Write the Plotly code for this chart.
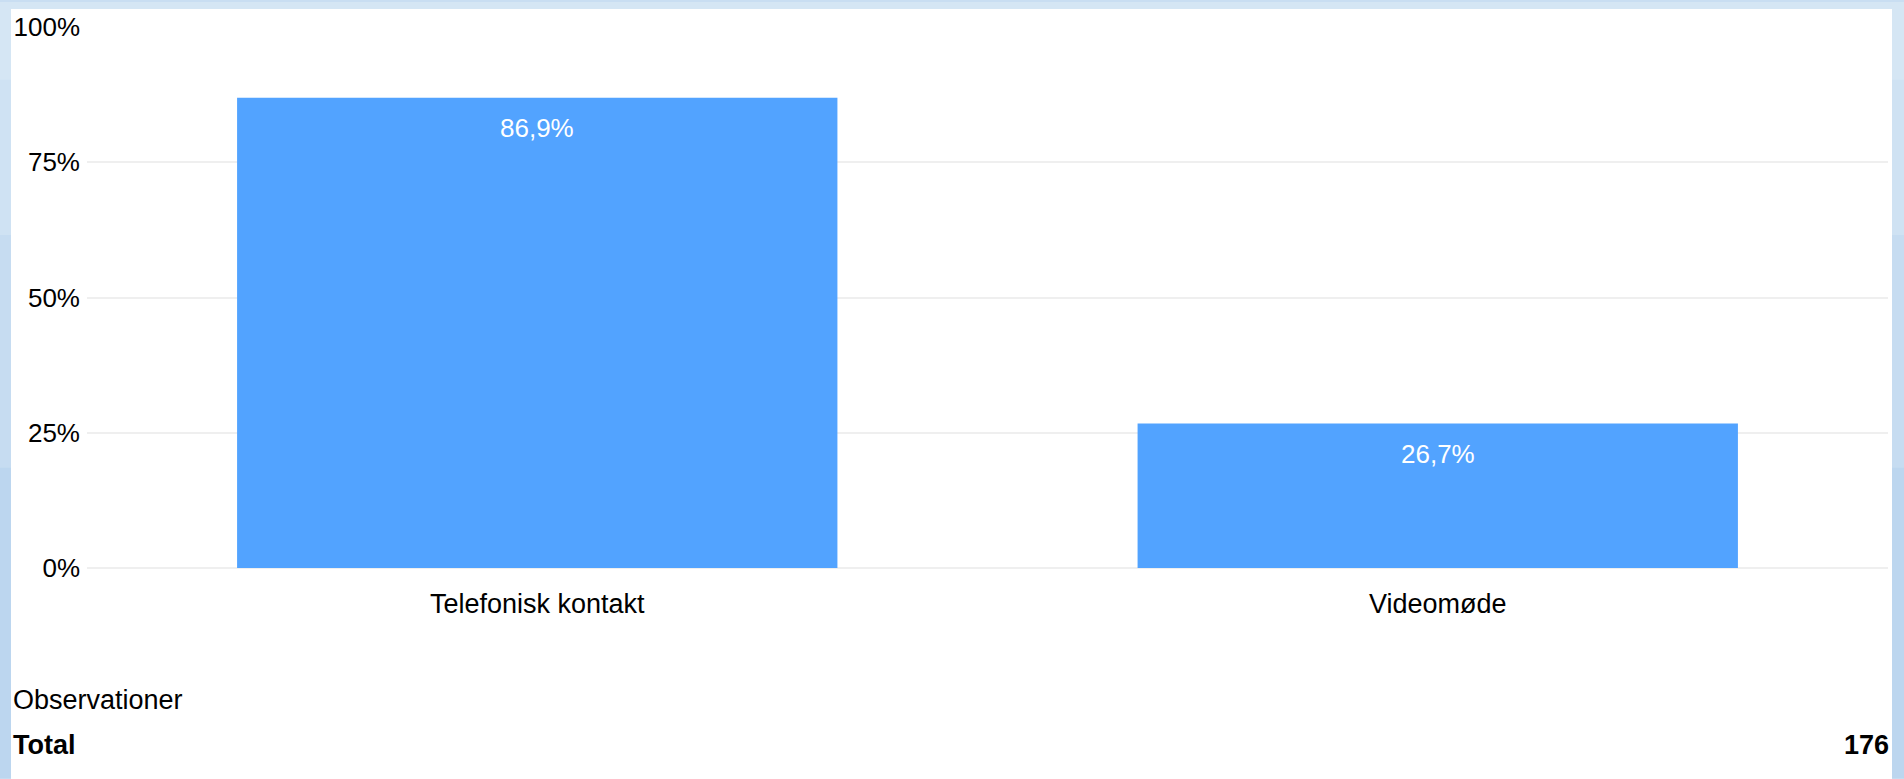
import plotly.graph_objects as go

categories = ["Telefonisk kontakt", "Videomøde"]
values = [86.9, 26.7]
tick_vals = [0, 25, 50, 75, 100]
tick_text = ["0%", "25%", "50%", "75%", "100%"]
obs_label = "Observationer"
total_label = "Total"
total_n = 176

W, H = 1904, 779
L, R, T, B = 87, 16, 25, 211
pw, ph = W - L - R, H - T - B

def px(x):
    return (x - L) / pw

def py(y):
    return 1 - (y - T) / ph

FONT = "Liberation Sans, Arial, sans-serif"
BAR = "#52a3ff"
FS = 27

fig = go.Figure()
fig.add_trace(go.Bar(
    x=categories, y=values, marker=dict(color=BAR, line=dict(width=0)),
    hoverinfo="skip",
))

labels = [f"{v:.1f}".replace(".", ",") + "%" for v in values]
annotations = []
for c, v, t in zip(categories, values, labels):
    annotations.append(dict(x=c, y=v, xref="x", yref="y", text=t, showarrow=False,
                            yanchor="top", yshift=-13,
                            font=dict(family=FONT, size=26, color="white")))

annotations += [
    dict(x=px(11), y=py(700), xref="paper", yref="paper", text=obs_label, showarrow=False,
         xanchor="left", yanchor="middle", font=dict(family=FONT, size=FS, color="black")),
    dict(x=px(11), y=py(746), xref="paper", yref="paper", text=f"<b>{total_label}</b>", showarrow=False,
         xanchor="left", yanchor="middle", font=dict(family=FONT, size=FS, color="black")),
    dict(x=px(1891), y=py(746), xref="paper", yref="paper", text=f"<b>{total_n}</b>", showarrow=False,
         xanchor="right", yanchor="middle", font=dict(family=FONT, size=FS, color="black")),
]

shapes = [
    dict(type="rect", xref="paper", yref="paper", x0=px(0), x1=px(W), y0=py(H), y1=py(0),
         fillcolor="#bcd6ef", line=dict(width=0), layer="below"),
    dict(type="rect", xref="paper", yref="paper", x0=px(0), x1=px(W), y0=py(H * 0.6), y1=py(0),
         fillcolor="#c6dcf1", line=dict(width=0), layer="below"),
    dict(type="rect", xref="paper", yref="paper", x0=px(0), x1=px(W), y0=py(H * 0.3), y1=py(0),
         fillcolor="#cfe2f3", line=dict(width=0), layer="below"),
    dict(type="rect", xref="paper", yref="paper", x0=px(0), x1=px(W), y0=py(H * 0.1), y1=py(0),
         fillcolor="#d5e6f4", line=dict(width=0), layer="below"),
    dict(type="rect", xref="paper", yref="paper", x0=px(11), x1=px(1892), y0=py(H + 5), y1=py(7),
         fillcolor="white", line=dict(width=0), layer="below"),
]

fig.update_layout(
    width=W, height=H,
    margin=dict(l=L, r=R, t=T, b=B, pad=0),
    paper_bgcolor="#c9def2",
    plot_bgcolor="rgba(0,0,0,0)",
    bargap=1/3,
    showlegend=False,
    font=dict(family=FONT, size=FS, color="black"),
    xaxis=dict(showgrid=False, showline=False, zeroline=False, ticks="",
               tickfont=dict(family=FONT, size=FS, color="black"), ticklabelstandoff=17),
    yaxis=dict(range=[0, 100], tickvals=tick_vals, ticktext=tick_text,
               showgrid=True, gridcolor="#efefef", gridwidth=2, zeroline=True,
               zerolinecolor="#efefef", zerolinewidth=2, showline=False, ticks="",
               tickfont=dict(family=FONT, size=26, color="black"), ticklabelstandoff=6),
    annotations=annotations,
    shapes=shapes,
)

fig.write_html("out.html")
